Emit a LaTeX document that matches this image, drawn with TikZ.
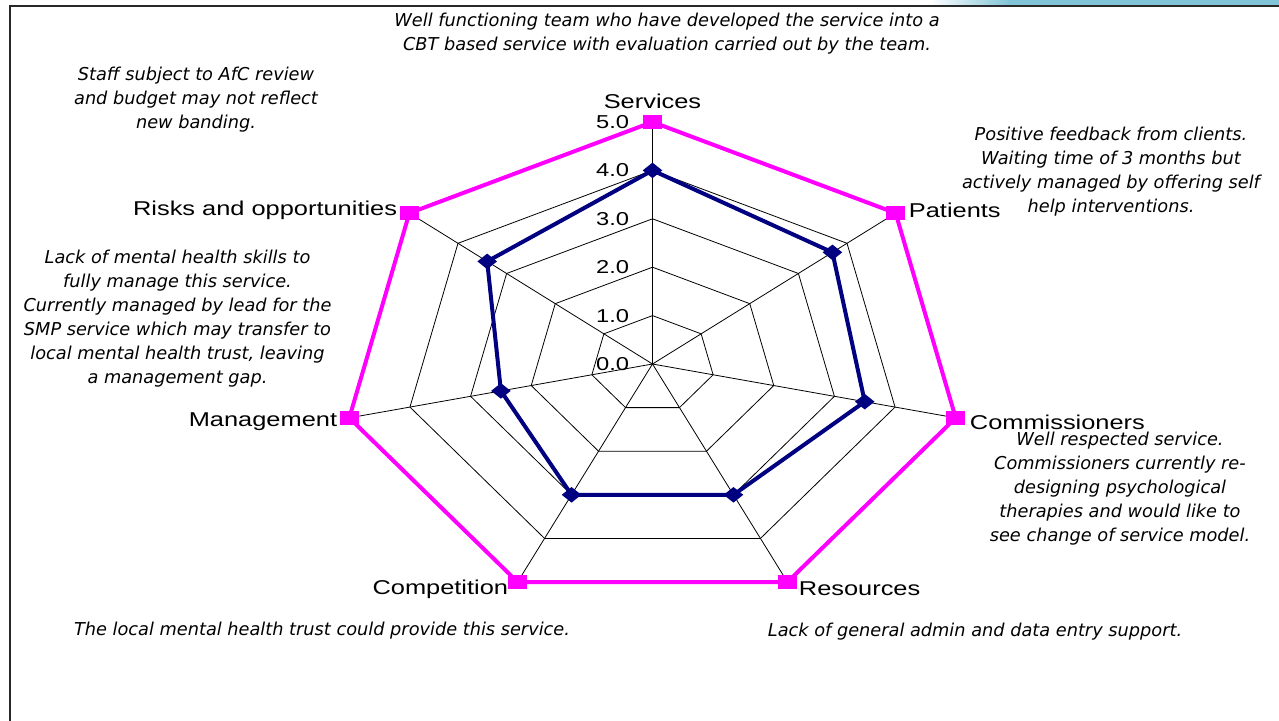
\documentclass[tikz,border=0pt]{standalone}
\usepackage{fontspec}
\setmainfont{Liberation Sans}
\newfontfamily\notefont{DejaVu Sans}
\usetikzlibrary{shapes.geometric}

\definecolor{rimpink}{RGB}{255,0,255}
\definecolor{scorenavy}{RGB}{0,0,128}
\definecolor{slideblue}{RGB}{128,196,214}
\definecolor{framegray}{RGB}{40,40,40}

\tikzset{every picture/.style={line width=0.75pt}}

\begin{document}
\begin{tikzpicture}[x=0.75pt,y=0.75pt,yscale=-1,xscale=1,
    gridline/.style={draw=black,line width=0.6pt},
    rimline/.style={draw=rimpink,line width=3pt,line join=miter},
    scoreline/.style={draw=scorenavy,line width=3pt,line join=round},
    sqmark/.style={rectangle,fill=rimpink,minimum width=14pt,minimum height=11pt,inner sep=0pt},
    dmmark/.style={diamond,fill=scorenavy,minimum width=15pt,minimum height=12pt,inner sep=0pt},
    axislbl/.style={inner sep=0.75pt,font=\fontsize{15}{18}\selectfont,xscale=1.27},
    valuelbl/.style={inner sep=0.75pt,anchor=east,font=\fontsize{14}{16}\selectfont,xscale=1.27},
    notelbl/.style={inner sep=0.75pt,align=center,font=\notefont\itshape\fontsize{13.3}{18}\selectfont}]

    \useasboundingbox (0,0) rectangle (1279,721);
    \fill[white] (0,0) rectangle (1279,721);

    %slide edge, top and left
    \shade[left color=white,right color=slideblue] (930,0) rectangle (1010,5);
    \fill[slideblue] (1010,0) rectangle (1279,5);
    \draw[framegray,line width=1.5pt] (10,721) -- (10,5.5) -- (1279,5.5);

    %Radar chart: centre (652.5,364), one unit = 62.2px across, 48.4px up
    \begin{scope}[shift={(652.5,364)},x=46.65pt,y=36.3pt]
        \coordinate (ctr) at (0,0);
        \foreach \k in {0,...,6} {
            \coordinate (ax\k) at ({-90+\k*360/7}:5);
            \draw[gridline] (ctr) -- (ax\k);
        }
        \foreach \r in {1,...,5}
            \draw[gridline] (-90:\r) \foreach \k in {1,...,6} { -- ({-90+\k*360/7}:\r) } -- cycle;

        %scores
        \foreach \v [count=\k from 0] in {4.0,3.7,3.5,3.0,3.0,2.5,3.4}
            \coordinate (sc\k) at ({-90+\k*360/7}:\v);

        \draw[rimline] (ax0) -- (ax1) -- (ax2) -- (ax3) -- (ax4) -- (ax5) -- (ax6) -- cycle;
        \draw[scoreline] (sc0) -- (sc1) -- (sc2) -- (sc3) -- (sc4) -- (sc5) -- (sc6) -- cycle;

        \foreach \k in {0,...,6} {
            \node[sqmark] (rim\k) at (ax\k) {};
            \node[dmmark] (dot\k) at (sc\k) {};
        }
    \end{scope}

    % Scale values
    \foreach \t [count=\k from 0] in {0.0,1.0,2.0,3.0,4.0,5.0}
        \node[valuelbl] (val\k) at (631,{364-48.4*\k}) {\t};

    % Axis labels
    \node[axislbl] (lblSrv) at (652.5,101) {Services};
    \node[axislbl,anchor=west] (lblPat) at (907,210) {Patients};
    \node[axislbl,anchor=west] (lblCom) at (968,422) {Commissioners};
    \node[axislbl,anchor=west] (lblRes) at (797,589) {Resources};
    \node[axislbl,anchor=east] (lblCmp) at (510,589) {Competition};
    \node[axislbl,anchor=east] (lblMgt) at (339,422) {Management};
    \node[axislbl,anchor=east] (lblRsk) at (399,210) {Risks and opportunities};

    % Notes
    \node[notelbl] (noteSrv) at (667,34) {Well functioning team who have developed the service into a\\CBT based service with evaluation carried out by the team.};
    \node[notelbl] (noteRsk) at (196,100) {Staff subject to AfC review\\and budget may not reflect\\new banding.};
    \node[notelbl] (noteMgt) at (177.5,318.5) {Lack of mental health skills to\\fully manage this service.\\Currently managed by lead for the\\SMP service which may transfer to\\local mental health trust, leaving\\a management gap.};
    \node[notelbl] (notePat) at (1111,171.5) {Positive feedback from clients.\\Waiting time of 3 months but\\actively managed by offering self\\help interventions.};
    \node[notelbl] (noteCom) at (1120,489) {Well respected service.\\Commissioners currently re-\\designing psychological\\therapies and would like to\\see change of service model.};
    \node[notelbl] (noteCmp) at (322,631) {The local mental health trust could provide this service.};
    \node[notelbl] (noteRes) at (975,632) {Lack of general admin and data entry support.};

\end{tikzpicture}
\end{document}
